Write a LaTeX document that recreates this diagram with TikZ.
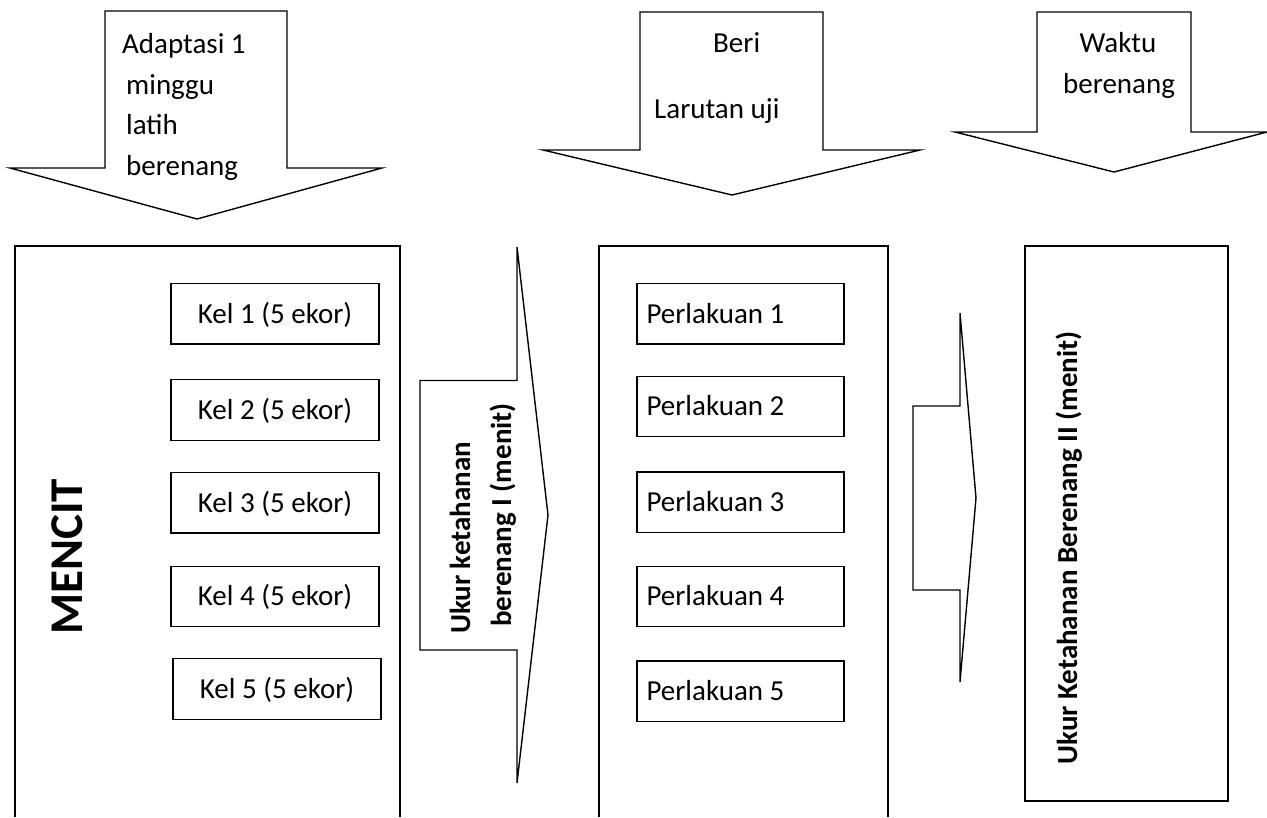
\documentclass[tikz,border=0pt]{standalone}
\usepackage{fontspec}
\setmainfont{Carlito}
\begin{document}
\begin{tikzpicture}[x=1pt,y=-1pt,
  outline/.style={draw=black,line width=1.4pt,line join=miter},
  txt/.style={font=\fontsize{29}{35}\selectfont,inner sep=0pt},
  btxt/.style={font=\fontsize{29}{35}\selectfont\bfseries,inner sep=0pt},
  kelbox/.style={outline,minimum width=208pt,minimum height=60.5pt,inner sep=0pt,
    font=\fontsize{29}{35}\selectfont,text height=18.7pt,text depth=0pt},
  perbox/.style={outline,minimum width=207pt,minimum height=60.5pt,inner sep=0pt},
  pertxt/.style={txt,anchor=west,text height=18.7pt,text depth=0pt,xshift=10pt},
  bigbox/.style={outline,minimum width=203pt,minimum height=555pt,inner sep=0pt}]
\useasboundingbox (0,0) rectangle (1267,817);
\fill[white] (0,0) rectangle (1267,817);

% open-bottom containers
\draw[outline] (15,817) -- (15,246) -- (400,246) -- (400,817);
\draw[outline] (599,817) -- (599,246) -- (888,246) -- (888,817);
\node[bigbox] (result) at (1126.5,523.5) {};

% block arrows pointing down
\draw[outline,fill=white] (105,11) -- (287,11) -- (287,168) -- (382,168) -- (197,219)
  -- (10,168) -- (105,168) -- cycle;
\draw[outline,fill=white] (640,12) -- (823,12) -- (823,150) -- (920,150) -- (732,195)
  -- (543,150) -- (640,150) -- cycle;
\draw[outline,fill=white] (1037,12) -- (1191,12) -- (1191,132) -- (1267,132) -- (1114,172)
  -- (955,132) -- (1037,132) -- cycle;

% block arrows pointing right
\draw[outline,fill=white] (420,380.5) -- (517,380.5) -- (517,247) -- (548,515)
  -- (517,783) -- (517,650) -- (420,650) -- cycle;
\draw[outline,fill=white] (913,406) -- (960,406) -- (960,313) -- (976,498)
  -- (960,682) -- (960,590) -- (913,590) -- cycle;

% labels of the down arrows
\node[txt,anchor=base west] (a1) at (122,53) {Adaptasi 1};
\node[txt,anchor=base west] (a2) at (126,94) {minggu};
\node[txt,anchor=base west] (a3) at (126,134) {latih};
\node[txt,anchor=base west] (a4) at (126,175) {berenang};
\node[txt,anchor=base west] (b1) at (713,52) {Beri};
\node[txt,anchor=base west] (b2) at (654,118) {Larutan uji};
\node[txt,anchor=base] (c1) at (1118,52) {Waktu};
\node[txt,anchor=base] (c2) at (1119,93) {berenang};

% mice groups
\node[btxt,font=\fontsize{47}{56}\selectfont\bfseries,anchor=base,rotate=90] (mencit) at (82,557) {MENCIT};
\node[kelbox] (k1) at (275,313.75) {Kel 1 (5 ekor)};
\node[kelbox] (k2) at (275,410) {Kel 2 (5 ekor)};
\node[kelbox] (k3) at (275,502.75) {Kel 3 (5 ekor)};
\node[kelbox] (k4) at (275,596.5) {Kel 4 (5 ekor)};
\node[kelbox] (k5) at (277,689) {Kel 5 (5 ekor)};

% first measurement
\node[btxt,anchor=base,rotate=90] (u1) at (470,538) {Ukur ketahanan};
\node[btxt,anchor=base,rotate=90] (u2) at (511,515) {berenang I (menit)};

% treatments
\node[perbox] (p1) at (740.5,313.75) {};
\node[perbox] (p2) at (740.5,406.5) {};
\node[perbox] (p3) at (740.5,502.25) {};
\node[perbox] (p4) at (740.5,596.5) {};
\node[perbox] (p5) at (740.5,691.3) {};
\node[pertxt] (p1t) at (p1.west) {Perlakuan 1};
\node[pertxt] (p2t) at (p2.west) {Perlakuan 2};
\node[pertxt] (p3t) at (p3.west) {Perlakuan 3};
\node[pertxt] (p4t) at (p4.west) {Perlakuan 4};
\node[pertxt] (p5t) at (p5.west) {Perlakuan 5};

% second measurement
\node[btxt,anchor=base,rotate=90] (u3) at (1077,548) {Ukur Ketahanan Berenang II (menit)};
\end{tikzpicture}
\end{document}
